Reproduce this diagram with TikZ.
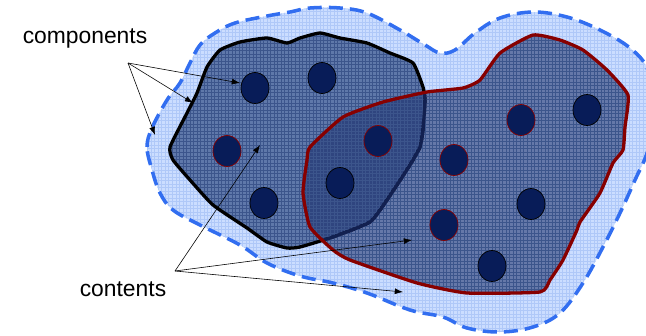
\documentclass[tikz,border=0pt]{standalone}
\usepackage{fontspec}
\setmainfont{Liberation Sans}
\usetikzlibrary{patterns,arrows.meta}

\definecolor{hazeblue}{RGB}{203,221,255}
\definecolor{hazegrid}{RGB}{175,200,248}
\definecolor{dashblue}{RGB}{50,110,240}
\definecolor{bodyblue}{RGB}{95,120,170}
\definecolor{bodygrid}{RGB}{60,85,140}
\definecolor{overlayblue}{RGB}{0,20,85}
\definecolor{dotblue}{RGB}{8,28,88}
\definecolor{rimred}{RGB}{135,0,0}
\definecolor{rimnavy}{RGB}{18,32,80}

\tikzset{
	label text/.style={font=\fontsize{19.5}{22}\selectfont, inner sep=0pt},
	pointer/.style={-{Latex[length=7pt,width=5pt]}, line width=0.5pt},
	dot/.style={fill=dotblue, draw=black, line width=0.6pt},
	reddot/.style={fill=dotblue, draw=rimred, line width=0.6pt}
}

\begin{document}
\begin{tikzpicture}[x=0.03cm,y=-0.03cm]
	\useasboundingbox (0,0) rectangle (646,335);
	% Outer haze
	\path[fill=hazeblue] plot[smooth cycle, tension=0.6] coordinates {
		(152,170) (147,147) (152,128) (167,100) (180,83) (190,63) (200,45) (215,33) (235,23)
		(267,16) (290,12) (310,8) (340,8) (367,13) (400,30) (425,45) (440,53) (455,50)
		(475,33) (500,18) (533,12) (567,17) (600,30) (630,48) (648,70) (655,110) (648,150)
		(635,180) (620,213) (603,247) (583,283) (560,313) (533,327) (500,332) (467,328)
		(443,317) (410,310) (367,293) (333,283) (300,276) (267,263) (240,245) (200,225)
		(173,210) (160,193)};
	\path[pattern=grid, pattern color=hazegrid] plot[smooth cycle, tension=0.6] coordinates {
		(152,170) (147,147) (152,128) (167,100) (180,83) (190,63) (200,45) (215,33) (235,23)
		(267,16) (290,12) (310,8) (340,8) (367,13) (400,30) (425,45) (440,53) (455,50)
		(475,33) (500,18) (533,12) (567,17) (600,30) (630,48) (648,70) (655,110) (648,150)
		(635,180) (620,213) (603,247) (583,283) (560,313) (533,327) (500,332) (467,328)
		(443,317) (410,310) (367,293) (333,283) (300,276) (267,263) (240,245) (200,225)
		(173,210) (160,193)};
	\draw[dashblue, line width=3pt, dash pattern=on 12pt off 6pt] plot[smooth cycle, tension=0.6] coordinates {
		(152,170) (147,147) (152,128) (167,100) (180,83) (190,63) (200,45) (215,33) (235,23)
		(267,16) (290,12) (310,8) (340,8) (367,13) (400,30) (425,45) (440,53) (455,50)
		(475,33) (500,18) (533,12) (567,17) (600,30) (630,48) (648,70) (655,110) (648,150)
		(635,180) (620,213) (603,247) (583,283) (560,313) (533,327) (500,332) (467,328)
		(443,317) (410,310) (367,293) (333,283) (300,276) (267,263) (240,245) (200,225)
		(173,210) (160,193)};

	% Left component (black rim)
	\path[fill=bodyblue] plot[smooth cycle, tension=0.3] coordinates {
		(170,147) (187,113) (197,93) (207,67) (220,50) (240,42) (267,38) (287,43) (300,38)
		(320,33) (340,38) (367,43) (390,53) (413,63) (423,87) (425,100) (423,130) (420,147)
		(410,165) (387,200) (370,222) (333,237) (300,247) (287,248) (267,242) (247,228)
		(213,205) (190,180) (173,160)};
	\path[pattern=grid, pattern color=bodygrid] plot[smooth cycle, tension=0.3] coordinates {
		(170,147) (187,113) (197,93) (207,67) (220,50) (240,42) (267,38) (287,43) (300,38)
		(320,33) (340,38) (367,43) (390,53) (413,63) (423,87) (425,100) (423,130) (420,147)
		(410,165) (387,200) (370,222) (333,237) (300,247) (287,248) (267,242) (247,228)
		(213,205) (190,180) (173,160)};
	\draw[black, line width=2.8pt, line join=round] plot[smooth cycle, tension=0.3] coordinates {
		(170,147) (187,113) (197,93) (207,67) (220,50) (240,42) (267,38) (287,43) (300,38)
		(320,33) (340,38) (367,43) (390,53) (413,63) (423,87) (425,100) (423,130) (420,147)
		(410,165) (387,200) (370,222) (333,237) (300,247) (287,248) (267,242) (247,228)
		(213,205) (190,180) (173,160)};

	% Right component (red rim), laid over the left one
	\path[fill=overlayblue, fill opacity=0.5] plot[smooth cycle, tension=0.3] coordinates {
		(310,147) (343,117) (383,102) (427,92) (463,88) (480,80) (500,53) (533,35) (560,40)
		(583,50) (607,70) (628,95) (625,127) (623,150) (613,163) (600,193) (580,222) (577,230)
		(563,260) (550,280) (540,292) (467,293) (417,283) (350,260) (333,250) (310,227)
		(303,193) (307,160)};
	\path[pattern=grid, pattern color=bodygrid] plot[smooth cycle, tension=0.3] coordinates {
		(310,147) (343,117) (383,102) (427,92) (463,88) (480,80) (500,53) (533,35) (560,40)
		(583,50) (607,70) (628,95) (625,127) (623,150) (613,163) (600,193) (580,222) (577,230)
		(563,260) (550,280) (540,292) (467,293) (417,283) (350,260) (333,250) (310,227)
		(303,193) (307,160)};
	% black rim seen through the overlap
	\begin{scope}
		\clip plot[smooth cycle, tension=0.3] coordinates {
			(310,147) (343,117) (383,102) (427,92) (463,88) (480,80) (500,53) (533,35) (560,40)
			(583,50) (607,70) (628,95) (625,127) (623,150) (613,163) (600,193) (580,222) (577,230)
			(563,260) (550,280) (540,292) (467,293) (417,283) (350,260) (333,250) (310,227)
			(303,193) (307,160)};
		\draw[rimnavy, line width=2.8pt, line join=round] plot[smooth cycle, tension=0.3] coordinates {
			(170,147) (187,113) (197,93) (207,67) (220,50) (240,42) (267,38) (287,43) (300,38)
			(320,33) (340,38) (367,43) (390,53) (413,63) (423,87) (425,100) (423,130) (420,147)
			(410,165) (387,200) (370,222) (333,237) (300,247) (287,248) (267,242) (247,228)
			(213,205) (190,180) (173,160)};
	\end{scope}
	\draw[rimred, line width=2.8pt, line join=round] plot[smooth cycle, tension=0.3] coordinates {
		(310,147) (343,117) (383,102) (427,92) (463,88) (480,80) (500,53) (533,35) (560,40)
		(583,50) (607,70) (628,95) (625,127) (623,150) (613,163) (600,193) (580,222) (577,230)
		(563,260) (550,280) (540,292) (467,293) (417,283) (350,260) (333,250) (310,227)
		(303,193) (307,160)};

	% Contents
	\draw[dot] (255,88) ellipse [x radius=14, y radius=15.5];
	\draw[dot] (322,78) ellipse [x radius=14, y radius=15.5];
	\draw[reddot] (227,151) ellipse [x radius=14, y radius=15.5];
	\draw[reddot] (378,141) ellipse [x radius=14, y radius=15.5];
	\draw[dot] (340,183) ellipse [x radius=14, y radius=15.5];
	\draw[dot] (264,203) ellipse [x radius=14, y radius=15.5];
	\draw[reddot] (454,160) ellipse [x radius=14, y radius=15.5];
	\draw[reddot] (521,120) ellipse [x radius=14, y radius=15.5];
	\draw[dot] (587,110) ellipse [x radius=14, y radius=15.5];
	\draw[reddot] (444,225) ellipse [x radius=14, y radius=15.5];
	\draw[dot] (531,204) ellipse [x radius=14, y radius=15.5];
	\draw[dot] (492,266) ellipse [x radius=14, y radius=15.5];

	% Labels and pointers
	\node[label text] (components) at (85,38) {components};
	\node[label text] (contents) at (123,289) {contents};
	\coordinate (comphub) at (128,63);
	\coordinate (conthub) at (175,271);
	\coordinate (compa) at (240,83);
	\coordinate (compb) at (193,103);
	\coordinate (compc) at (155,135);
	\coordinate (conta) at (260,145);
	\coordinate (contb) at (412,240);
	\coordinate (contc) at (403,292);
	\draw[pointer] (comphub) -- (compa);
	\draw[pointer] (comphub) -- (compb);
	\draw[pointer] (comphub) -- (compc);
	\draw[pointer] (conthub) -- (conta);
	\draw[pointer] (conthub) -- (contb);
	\draw[pointer] (conthub) -- (contc);
\end{tikzpicture}
\end{document}
